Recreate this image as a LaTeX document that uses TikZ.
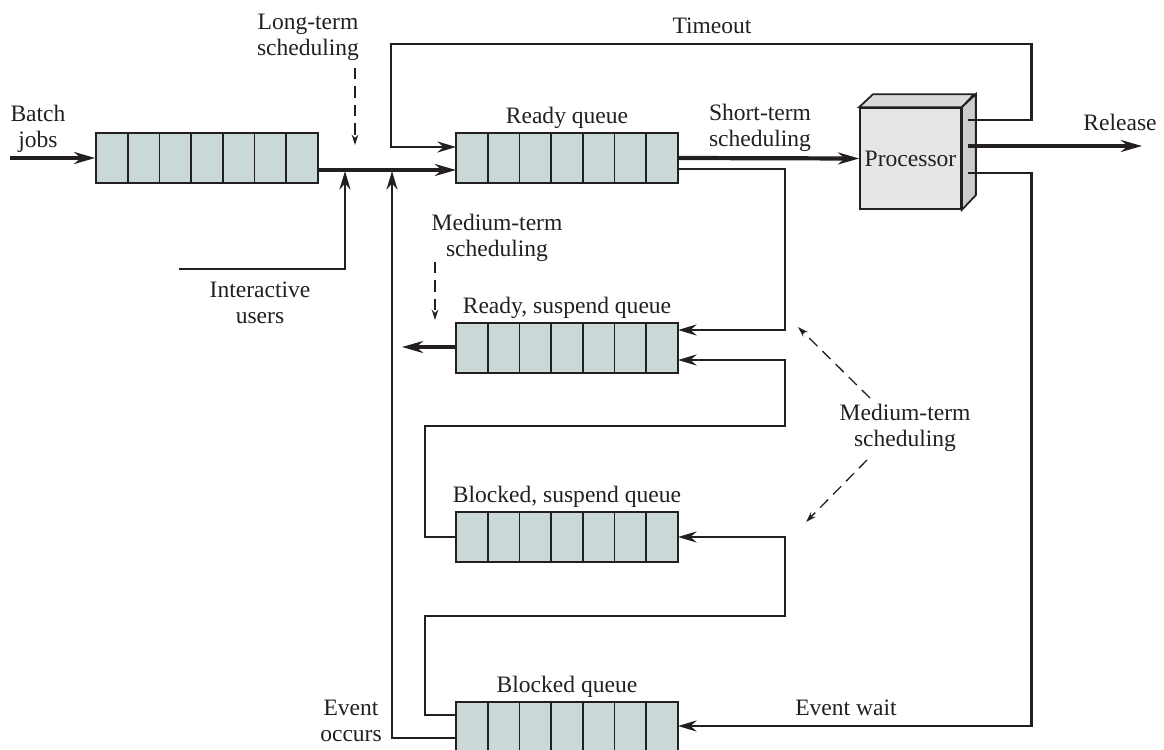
\documentclass[tikz,border=0pt]{standalone}
\usepackage{fontspec}
\setmainfont{Liberation Serif}
\usetikzlibrary{arrows.meta}

\definecolor{qfill}{RGB}{202,216,216}
\definecolor{pfront}{RGB}{230,230,230}
\definecolor{pside}{RGB}{205,205,205}
\definecolor{ptop}{RGB}{218,218,218}
\definecolor{ink}{RGB}{35,31,32}
\newcommand{\lblfont}{\fontsize{13.4}{14.8}\selectfont}

\tikzset{
  queue/.style={draw=ink, line width=0.95pt, fill=qfill, minimum width=4.44cm,
    minimum height=1cm, inner sep=0pt,
    path picture={\foreach \k in {1,...,6}{
      \draw[ink, line width=0.95pt] ([xshift=\k*0.634cm]path picture bounding box.south west)
        -- ([xshift=\k*0.634cm]path picture bounding box.north west);}}},
  lbl/.style={font=\lblfont, align=center, inner sep=1pt, text=ink},
  flow/.style={draw=ink, line width=1.7pt, -{Stealth[length=10.5pt,width=6.2pt]}},
  mainflow/.style={draw=ink, line width=2.4pt, -{Stealth[length=12pt,width=6.8pt]}},
  sched/.style={draw=ink, line width=0.75pt, dash pattern=on 6.5pt off 4pt,
    -{Stealth[length=6pt,width=3.8pt]}},
}

\begin{document}
\begin{tikzpicture}[x=0.02cm, y=-0.02cm]
  \useasboundingbox (0,0) rectangle (1164,750);

  \node[queue] (batch) at (207,158) {};
  \node[queue] (ready) at (567,158) {};
  \node[queue] (rsusp) at (567,348) {};
  \node[queue] (bsusp) at (567,537) {};
  \node[queue] (blocked) at (567,727) {};

  \node[lbl, above=1pt] (readylbl) at (ready.north) {Ready queue};
  \node[lbl, above=1pt] (rsusplbl) at (rsusp.north) {Ready, suspend queue};
  \node[lbl, above=1pt] (bsusplbl) at (bsusp.north) {Blocked, suspend queue};
  \node[lbl, above=1pt] (blockedlbl) at (blocked.north) {Blocked queue};

  \node[lbl, draw=ink, line width=1pt, fill=pfront, minimum size=2.02cm] (proc) at (910.5,158.5) {Processor};
  \filldraw[draw=ink, line width=1pt, fill=ptop] (proc.north west) -- ++(14,-13) -- ++(101,0) -- (proc.north east) -- cycle;
  \filldraw[draw=ink, line width=1pt, fill=pside] (proc.north east) -- ++(14,-13) -- ++(0,101) -- (proc.south east) -- cycle;

  \coordinate (batchin) at (10,158);
  \coordinate (bqout) at (318,170);
  \coordinate (rqin) at (456,170);
  \coordinate (rqin2) at (456,147);
  \coordinate (iustart) at (179,269);
  \coordinate (iujoin) at (345,171);
  \coordinate (eojoin) at (392,171);
  \coordinate (eostart) at (456,738);
  \coordinate (pto) at (968,120);
  \coordinate (prel) at (968,146);
  \coordinate (pew) at (968,173);
  \coordinate (relend) at (1142,146);
  \coordinate (tocorner) at (1031,44);
  \coordinate (tocorner2) at (391,44);
  \coordinate (rqout2) at (678,169);
  \coordinate (rsturn) at (785,330);
  \coordinate (rsin1) at (678,330);
  \coordinate (rsin2) at (678,360);
  \coordinate (rsout) at (456,347);
  \coordinate (rsend) at (402,347);
  \coordinate (bsout) at (456,537);
  \coordinate (bsturn1) at (425,426);
  \coordinate (bsturn2) at (785,360);
  \coordinate (bsin) at (678,537);
  \coordinate (bqout1) at (456,715);
  \coordinate (bqturn1) at (425,616);
  \coordinate (bqturn2) at (785,537);
  \coordinate (ewturn) at (1031,726);
  \coordinate (bqin) at (678,726);

  \draw[mainflow] (batchin) -- (batch.west);
  \draw[mainflow] (bqout) -- (rqin);
  \draw[flow] (iustart) -| (iujoin);
  \draw[flow] (eostart) -| (eojoin);
  \draw[flow] (pto) -| (tocorner) -- (tocorner2) |- (rqin2);
  \draw[mainflow] (ready.east) -- (proc.west);
  \draw[mainflow] (prel) -- (relend);
  \draw[flow] (rqout2) -| (rsturn) -- (rsin1);
  \draw[mainflow] (rsout) -- (rsend);
  \draw[flow] (bsout) -| (bsturn1) -| (bsturn2) -- (rsin2);
  \draw[flow] (bqout1) -| (bqturn1) -| (bqturn2) -- (bsin);
  \draw[flow] (pew) -| (ewturn) -- (bqin);

  \coordinate (lts1) at (355,68);
  \coordinate (lts2) at (355,145);
  \coordinate (mts1) at (435,262);
  \coordinate (mts2) at (435,320);
  \coordinate (mtr1) at (870,398);
  \coordinate (mtr2) at (798,327);
  \coordinate (mtr3) at (867,460);
  \coordinate (mtr4) at (806,522);
  \draw[sched] (lts1) -- (lts2);
  \draw[sched] (mts1) -- (mts2);
  \draw[sched] (mtr1) -- (mtr2);
  \draw[sched] (mtr3) -- (mtr4);

  \node[lbl] (ltsched) at (308,37) {Long-term\\scheduling};
  \node[lbl] (timeout) at (712,26) {Timeout};
  \node[lbl] (batchjobs) at (38,129) {Batch\\jobs};
  \node[lbl] (stsched) at (760,128) {Short-term\\scheduling};
  \node[lbl] (release) at (1120,122) {Release};
  \node[lbl] (mtsched) at (497,238) {Medium-term\\scheduling};
  \node[lbl] (iusers) at (260,303) {Interactive\\users};
  \node[lbl] (mtsched2) at (905,428) {Medium-term\\scheduling};
  \node[lbl] (eoccurs) at (351,721) {Event\\occurs};
  \node[lbl] (ewait) at (846,708) {Event wait};
\end{tikzpicture}
\end{document}
